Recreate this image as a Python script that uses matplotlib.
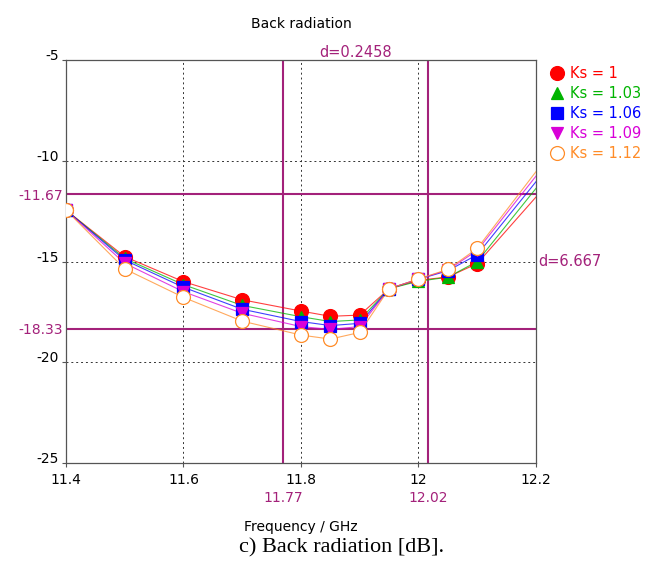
import matplotlib.pyplot as plt
from matplotlib.lines import Line2D

plt.rcParams['font.family'] = 'DejaVu Sans'

freq = [11.4, 11.5, 11.6, 11.7, 11.8, 11.85, 11.9, 11.95, 12.0, 12.05, 12.1, 12.2]

ks_labels = ['Ks = 1', 'Ks = 1.03', 'Ks = 1.06', 'Ks = 1.09', 'Ks = 1.12']
ks_values = [
    [-12.45, -14.76, -16.00, -16.90, -17.46, -17.72, -17.66, -16.35, -15.93, -15.77, -15.10, -11.80],
    [-12.45, -14.85, -16.15, -17.18, -17.74, -17.98, -17.90, -16.35, -15.98, -15.78, -15.00, -11.37],
    [-12.45, -14.93, -16.28, -17.37, -17.98, -18.18, -18.07, -16.35, -15.88, -15.46, -14.66, -11.04],
    [-12.45, -15.09, -16.50, -17.57, -18.23, -18.37, -18.23, -16.35, -15.87, -15.42, -14.45, -10.76],
    [-12.45, -15.37, -16.78, -17.96, -18.65, -18.85, -18.52, -16.35, -15.87, -15.39, -14.35, -10.54],
]
colors = ['#ff0000', '#00b400', '#0000ff', '#d800d8', '#ff8c28']
markers = ['o', '^', 's', 'v', 'o']
sizes = [10, 9, 8.5, 9, 10]

# cursor positions
x_cursors = [11.77, 11.77 + 0.2458]
y_cursors = [-11.67, -18.33]
cursor_col = '#a3217a'

fig = plt.figure(figsize=(6.55, 5.71), dpi=100)
ax = fig.add_axes([66 / 655, 1 - 463 / 571, 470 / 655, 403 / 571])

for vals, col, mk, sz in zip(ks_values, colors, markers, sizes):
    face = 'white' if col == '#ff8c28' else col
    ax.plot(freq, vals, color=col, lw=0.8, alpha=0.75, zorder=3)
    ax.plot(freq[:-1], vals[:-1], ls='none', marker=mk, ms=sz,
            markerfacecolor=face, markeredgecolor=col, markeredgewidth=0.9, zorder=4)

for xc in x_cursors:
    ax.axvline(xc, color=cursor_col, lw=1.5, zorder=2)
for yc in y_cursors:
    ax.axhline(yc, color=cursor_col, lw=1.5, zorder=2)

ax.set_xlim(11.4, 12.2)
ax.set_ylim(-25, -5)

ax.set_xticks([11.4, 11.6, 11.8, 12.0, 12.2], labels=['11.4', '11.6', '11.8', '12', '12.2'])
ax.set_xticks(x_cursors, labels=['11.77', '12.02'], minor=True)
ax.set_yticks([-25, -20, -15, -10, -5], labels=['-25', '-20', '-15', '-10', '-5'])
ax.set_yticks(y_cursors, labels=['-11.67', '-18.33'], minor=True)

ax.tick_params(which='major', direction='out', length=3, width=0.8, color='#555555',
               labelsize=10, pad=2)
ax.tick_params(axis='x', which='major', pad=4)
ax.tick_params(axis='x', which='minor', length=0, pad=20, labelsize=10, labelcolor=cursor_col)
ax.tick_params(axis='y', which='minor', length=0, pad=2, labelsize=10, labelcolor=cursor_col)
for lab in ax.get_yticklabels():
    lab.set_verticalalignment('baseline')

ax.grid(which='major', color='#333333', ls=(0, (2, 3)), lw=0.7)
for sp in ax.spines.values():
    sp.set_color('#555555')
    sp.set_linewidth(0.9)

ax.set_title('Back radiation', fontsize=10, pad=23)
ax.set_xlabel('Frequency / GHz', fontsize=10, labelpad=11)

ax.text(sum(x_cursors) / 2, -5, 'd=0.2458', color=cursor_col, fontsize=10.5,
        ha='center', va='bottom')
ax.text(1.005, -15, 'd=6.667', color=cursor_col, fontsize=10.5, ha='left', va='center',
        transform=ax.get_yaxis_transform())

handles = [Line2D([], [], ls='none', marker=mk, ms=sz, color=col,
                  markerfacecolor='white' if col == '#ff8c28' else col, markeredgewidth=0.9)
           for mk, col, sz in zip(markers, colors, sizes)]
ax.legend(handles, ks_labels, loc='upper left', bbox_to_anchor=(1.033, 0.985),
          frameon=False, fontsize=10.5, labelcolor=colors, handlelength=0.8,
          handletextpad=0.45, labelspacing=0.34, borderpad=0, borderaxespad=0)

fig.text(342 / 655, 1 - 548 / 571, 'c) Back radiation [dB].', family='Liberation Serif',
         fontsize=16, ha='center', va='center')

fig.savefig('out.png', dpi=100)
